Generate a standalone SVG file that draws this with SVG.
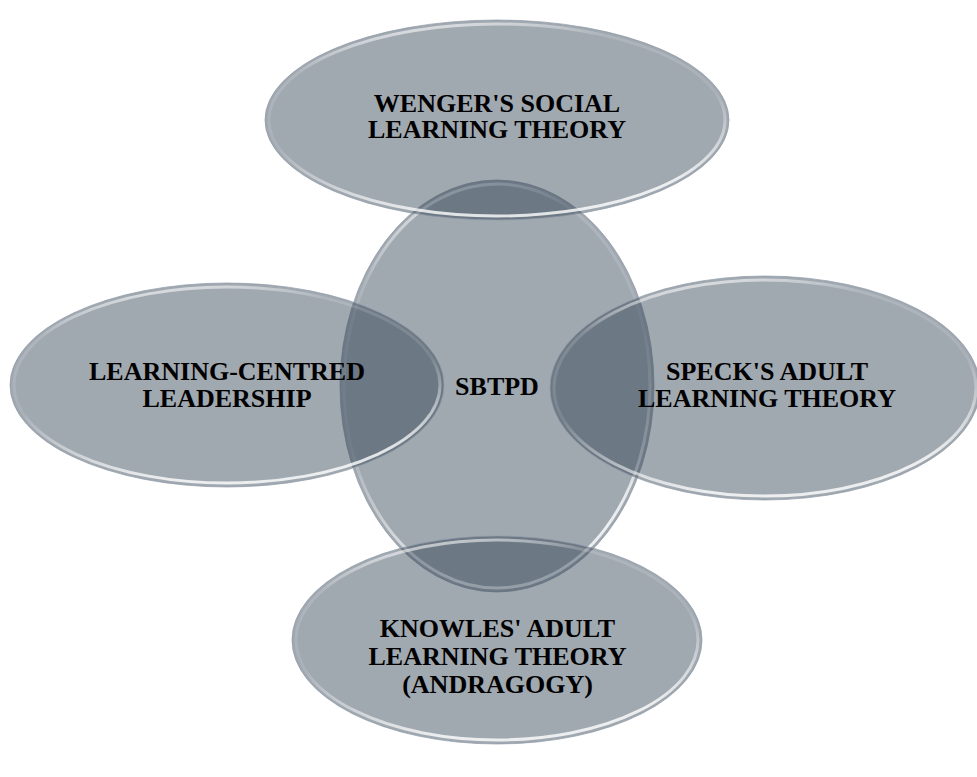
<svg xmlns="http://www.w3.org/2000/svg" width="977" height="777" viewBox="0 0 977 777">
<defs>
<linearGradient id="rim" x1="0" y1="0" x2="0.3" y2="1">
<stop offset="0" stop-color="#ffffff" stop-opacity="0.95"/>
<stop offset="0.25" stop-color="#ffffff" stop-opacity="0.15"/>
<stop offset="0.6" stop-color="#ffffff" stop-opacity="0.1"/>
<stop offset="1" stop-color="#ffffff" stop-opacity="0.8"/>
</linearGradient>
</defs>
<style>
.body{fill:#2d3d50;fill-opacity:0.45;stroke:#8e99a7;stroke-width:1;stroke-opacity:0.7}
.gloss{fill:none;stroke:url(#rim);stroke-width:3}
.lbl{font-family:"Liberation Serif","Times New Roman",serif;font-weight:bold;font-size:26px;fill:#000;text-anchor:middle}
</style>
<g id="connectors"></g>
<g id="node-sbtpd">
<ellipse class="body" cx="497" cy="386" rx="157" ry="206"/>
<ellipse class="gloss" cx="497" cy="386" rx="153" ry="202"/>
<text class="lbl" x="497" y="395">SBTPD</text>
</g>
<g id="node-wenger">
<ellipse class="body" cx="497" cy="120" rx="232" ry="100"/>
<ellipse class="gloss" cx="497" cy="120" rx="228" ry="96"/>
<text class="lbl" x="497" y="111.5">WENGER'S SOCIAL</text>
<text class="lbl" x="497" y="137.5">LEARNING THEORY</text>
</g>
<g id="node-lcl">
<ellipse class="body" cx="227" cy="385" rx="217" ry="102"/>
<ellipse class="gloss" cx="227" cy="385" rx="213" ry="98"/>
<text class="lbl" x="227" y="380">LEARNING-CENTRED</text>
<text class="lbl" x="227" y="406.5">LEADERSHIP</text>
</g>
<g id="node-speck">
<ellipse class="body" cx="765" cy="388" rx="215" ry="112"/>
<ellipse class="gloss" cx="765" cy="388" rx="211" ry="108"/>
<text class="lbl" x="767" y="380">SPECK'S ADULT</text>
<text class="lbl" x="767" y="406.5">LEARNING THEORY</text>
</g>
<g id="node-knowles">
<ellipse class="body" cx="497" cy="640" rx="205" ry="104"/>
<ellipse class="gloss" cx="497" cy="640" rx="201" ry="100"/>
<text class="lbl" x="497.5" y="637">KNOWLES' ADULT</text>
<text class="lbl" x="497.5" y="665">LEARNING THEORY</text>
<text class="lbl" x="497.5" y="693">(ANDRAGOGY)</text>
</g>
</svg>
